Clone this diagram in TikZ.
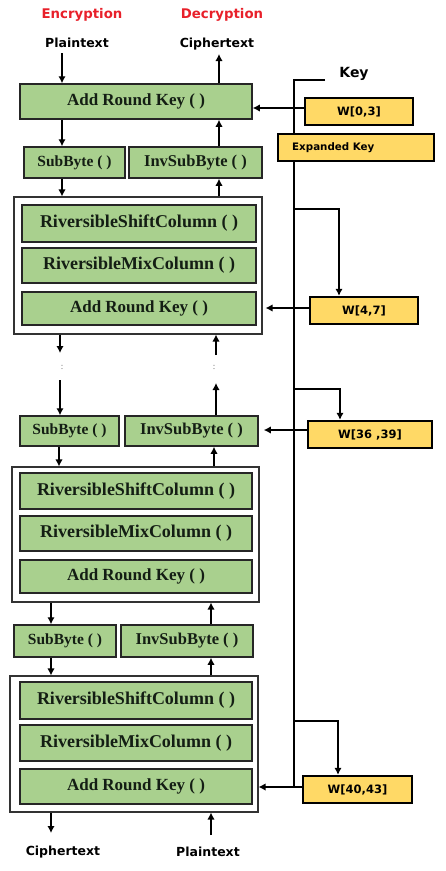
\documentclass[tikz,border=0pt]{standalone}
\usepackage{fontspec}
\setmainfont{Liberation Serif}
\newfontfamily\lab{DejaVu Sans}
\usetikzlibrary{arrows.meta,calc}
\definecolor{gfill}{RGB}{169,208,142}
\definecolor{yfill}{RGB}{255,217,102}
\definecolor{redt}{RGB}{232,32,42}
\definecolor{gtext}{RGB}{20,30,20}
\begin{document}
\begin{tikzpicture}[x=1pt,y=-1pt,
  gbox/.style={draw=black!85,line width=1.5pt,fill=gfill,inner sep=0pt,text=gtext,font=\bfseries\fontsize{17}{17}\selectfont},
  wbox/.style={gbox,font=\bfseries\fontsize{18}{18}\selectfont},
  ybox/.style={draw=black,line width=2.4pt,fill=yfill,inner sep=0pt,font=\lab\bfseries\fontsize{11.5}{11.5}\selectfont},
  rbox/.style={draw=black!80,line width=1.1pt,fill=white,inner sep=0pt},
  arr/.style={-{Latex[length=7pt,width=7.5pt]},line width=1.9pt},
  keyl/.style={line width=2.6pt},
  lbl/.style={font=\lab\bfseries\fontsize{12.5}{12.5}\selectfont,inner sep=0pt},
  hd/.style={font=\lab\bfseries\fontsize{13.3}{13.3}\selectfont,text=redt,inner sep=0pt},
  dots/.style={font=\fontsize{9}{9}\selectfont,text=black!60,inner sep=0pt}]
\useasboundingbox (0,0) rectangle (445,871);

% headings
\node[hd] (enc) at (82,15) {Encryption};
\node[hd] (dec) at (222,15) {Decryption};
\node[lbl] (pt0) at (77,43) {Plaintext};
\node[lbl] (ct0) at (217,44) {Ciphertext};
\node[lbl,font=\lab\bfseries\fontsize{14}{14}\selectfont] (key) at (354,74) {Key};

% key line (drawn first so the expanded key box covers it)
\coordinate (k0) at (325,80);
\coordinate (kc) at (294,80);
\coordinate (kb) at (294,787);
\draw[keyl] (k0) -- (kc) -- (kb);

% round 0
\node[gbox,minimum width=232pt,minimum height=35pt] (ark0) at (136,101.5) {Add Round Key ( )};
\node[gbox,minimum width=101pt,minimum height=31pt,font=\bfseries\fontsize{15.5}{15.5}\selectfont] (sb1) at (74.5,162.5) {SubByte ( )};
\node[gbox,minimum width=133pt,minimum height=31pt,font=\bfseries\fontsize{16.5}{16.5}\selectfont] (isb1) at (195.5,162.5) {InvSubByte ( )};

% round 1
\node[rbox,minimum width=248pt,minimum height=137pt] (r1) at (138,265.5) {};
\node[wbox,minimum width=234pt,minimum height=37pt] (rsc1) at (139,223.5) {RiversibleShiftColumn ( )};
\node[wbox,minimum width=234pt,minimum height=35pt] (rmc1) at (139,265.5) {RiversibleMixColumn ( )};
\node[gbox,minimum width=234pt,minimum height=33pt] (ark1) at (139,308.5) {Add Round Key ( )};

\node[gbox,minimum width=99pt,minimum height=30pt,font=\bfseries\fontsize{15.5}{15.5}\selectfont] (sb2) at (69.5,431) {SubByte ( )};
\node[gbox,minimum width=133pt,minimum height=30pt,font=\bfseries\fontsize{16.5}{16.5}\selectfont] (isb2) at (191.5,431) {InvSubByte ( )};

% round 2
\node[rbox,minimum width=247pt,minimum height=135pt] (r2) at (135.5,534.5) {};
\node[wbox,minimum width=232pt,minimum height=36pt] (rsc2) at (136,491) {RiversibleShiftColumn ( )};
\node[wbox,minimum width=232pt,minimum height=35pt] (rmc2) at (136,533.5) {RiversibleMixColumn ( )};
\node[gbox,minimum width=232pt,minimum height=33pt] (ark2) at (136,576.5) {Add Round Key ( )};

\node[gbox,minimum width=102pt,minimum height=32pt,font=\bfseries\fontsize{15.5}{15.5}\selectfont] (sb3) at (65,641) {SubByte ( )};
\node[gbox,minimum width=132pt,minimum height=32pt,font=\bfseries\fontsize{16.5}{16.5}\selectfont] (isb3) at (187,641) {InvSubByte ( )};

% round 3
\node[rbox,minimum width=248pt,minimum height=136pt] (r3) at (134,744) {};
\node[wbox,minimum width=232pt,minimum height=37pt] (rsc3) at (136,700.5) {RiversibleShiftColumn ( )};
\node[wbox,minimum width=232pt,minimum height=36pt] (rmc3) at (136,743) {RiversibleMixColumn ( )};
\node[gbox,minimum width=232pt,minimum height=35pt] (ark3) at (136,786.5) {Add Round Key ( )};

% key boxes
\node[ybox,minimum width=108pt,minimum height=27pt] (w03) at (359,111.5) {W[0,3]};
\node[ybox,minimum width=156pt,minimum height=27pt] (exk) at (356,147.5) {};
\node[anchor=west,inner sep=0pt,font=\lab\bfseries\fontsize{10.3}{10.3}\selectfont] (exkt) at (292,147.5) {Expanded Key};
\node[ybox,minimum width=108pt,minimum height=27pt] (w47) at (364,310.5) {W[4,7]};
\node[ybox,minimum width=124pt,minimum height=27pt] (w3639) at (370,434.5) {W[36 ,39]};
\node[ybox,minimum width=109pt,minimum height=27pt] (w4043) at (357.5,789.5) {W[40,43]};

% key branches
\coordinate (b1) at (294,209);
\coordinate (b2) at (294,389);
\coordinate (b3) at (294,721);
\draw[arr,line width=2.1pt] (b1) -- (b1 -| 339,0) -- (339,0 |- w47.north);
\draw[arr,line width=2.1pt] (b2) -- (b2 -| 340,0) -- (340,0 |- w3639.north);
\draw[arr,line width=2.1pt] (b3) -- (b3 -| 338,0) -- (338,0 |- w4043.north);

% key arrows into rounds
\draw[arr] ([yshift=3.5pt]w03.west) -- ([yshift=3.5pt]w03.west -| ark0.east);
\draw[arr] ([yshift=2.5pt]w47.west) -- ([yshift=2.5pt,xshift=3pt]w47.west -| r1.east);
\draw[arr] ([yshift=4.5pt]w3639.west) -- ([yshift=4.5pt,xshift=5pt]w3639.west -| isb2.east);
\draw[arr] ([yshift=2.5pt]w4043.west) -- ([yshift=2.5pt]w4043.west -| r3.east);

% encryption path
\coordinate (e0) at (62,53);
\draw[arr] (e0) -- (e0 |- ark0.north);
\draw[arr] (ark0.south -| 62,0) -- (62,0 |- sb1.north);
\draw[arr] (sb1.south -| 62,0) -- (62,0 |- r1.north);
\coordinate (e1) at (60,353);
\coordinate (e2) at (60,380);
\draw[arr] (r1.south -| e1) -- (e1);
\node[dots] (d1) at (62,367) {:};
\draw[arr] (e2) -- (e2 |- sb2.north);
\draw[arr] (sb2.south -| 59,0) -- (59,0 |- r2.north);
\draw[arr] (r2.south -| 51,0) -- (51,0 |- sb3.north);
\draw[arr] (sb3.south -| 51,0) -- (51,0 |- r3.north);
\coordinate (e3) at (51,833);
\draw[arr] (r3.south -| e3) -- (e3);
\node[lbl] (ct1) at (63,852) {Ciphertext};

% decryption path
\coordinate (d0) at (219,54);
\draw[arr] (ark0.north -| d0) -- (d0);
\draw[arr] (isb1.north -| 219,0) -- (219,0 |- ark0.south);
\draw[arr] (r1.north -| 219,0) -- (219,0 |- isb1.south);
\coordinate (f1) at (216,355);
\coordinate (f2) at (216,383);
\draw[arr] (f1) -- (f1 |- r1.south);
\node[dots] (d2) at (214,367) {:};
\draw[arr] (isb2.north -| f2) -- (f2);
\draw[arr] (r2.north -| 214,0) -- (214,0 |- isb2.south);
\draw[arr] (isb3.north -| 211,0) -- (211,0 |- r2.south);
\draw[arr] (r3.north -| 211,0) -- (211,0 |- isb3.south);
\coordinate (f3) at (211,835);
\draw[arr] (f3) -- (f3 |- r3.south);
\node[lbl] (pt1) at (208,852) {Plaintext};
\end{tikzpicture}
\end{document}
